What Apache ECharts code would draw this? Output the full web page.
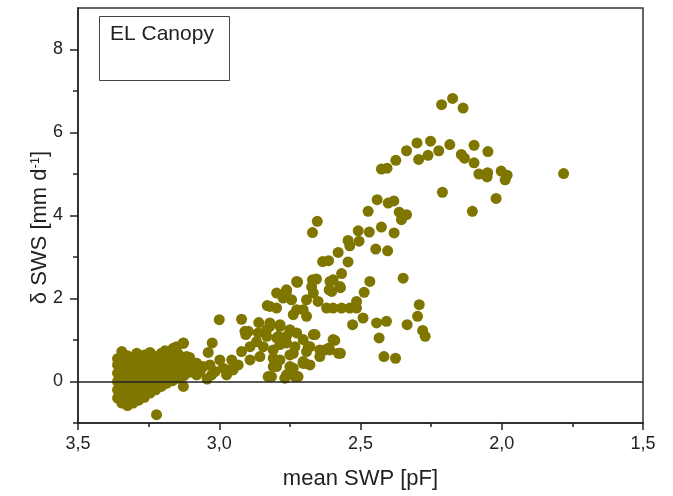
<!DOCTYPE html>
<html>
<head>
<meta charset="utf-8">
<script src="https://cdn.jsdelivr.net/npm/echarts@6/dist/echarts.min.js"></script>
<style>
html, body { margin: 0; padding: 0; background: #fff; }
#chart { width: 673px; height: 496px; }
</style>
</head>
<body>
<div id="chart"></div>
<script>
// tick labels
const xMajor = [3.5, 3.0, 2.5, 2.0, 1.5]
const xMinor = [3.25, 2.75, 2.25, 1.75]
const yMajor = [0, 2, 4, 6, 8]
const yMinor = [-1, 1, 3, 5, 7]

// [mean SWP, delta SWS]
const peakPoints = [
  [2.213, 6.67], [2.174, 6.82], [2.137, 6.59],
  [2.300, 5.75], [2.252, 5.79], [2.184, 5.71], [2.098, 5.69], [2.049, 5.54],
  [2.337, 5.56], [2.375, 5.33], [2.223, 5.56], [2.261, 5.45], [2.294, 5.35],
  [2.143, 5.47], [2.132, 5.38], [2.098, 5.27], [2.426, 5.12], [2.406, 5.14],
  [2.081, 5.00], [2.050, 5.03], [2.052, 4.93], [2.002, 5.07], [1.981, 4.97],
  [1.988, 4.86], [1.781, 5.01], [2.210, 4.56], [2.020, 4.41], [2.104, 4.10],
  [2.441, 4.38], [2.402, 4.30], [2.382, 4.35], [2.473, 4.10], [2.363, 4.08],
  [2.337, 4.02], [2.355, 3.90]
]
const risingPoints = [
  [2.653, 3.86], [2.670, 3.59], [2.508, 3.63], [2.469, 3.60], [2.426, 3.72],
  [2.381, 3.58], [2.544, 3.40], [2.505, 3.38], [2.538, 3.27], [2.446, 3.19],
  [2.404, 3.15], [2.579, 3.11], [2.634, 2.89], [2.613, 2.91], [2.544, 2.88],
  [2.567, 2.60], [2.597, 2.45], [2.670, 2.45], [2.656, 2.47], [2.723, 2.40],
  [2.467, 2.41], [2.349, 2.49], [2.608, 2.41], [2.726, 2.41]
]
const midPoints = [
  [2.571, 2.26], [2.611, 2.21], [2.487, 2.15], [2.673, 2.28], [2.667, 2.13],
  [2.691, 1.97], [2.650, 1.93], [2.762, 2.21], [2.768, 2.05], [2.744, 1.97],
  [2.797, 1.77], [2.703, 1.73], [2.738, 1.61], [2.691, 1.57], [2.620, 1.77],
  [2.597, 1.77], [2.567, 1.77], [2.538, 1.77], [2.514, 1.77], [2.514, 1.93],
  [2.491, 1.53], [2.573, 2.29], [2.602, 2.17], [2.797, 2.13], [2.762, 2.17],
  [2.774, 2.01], [2.830, 1.83], [2.724, 2.39], [2.821, 1.81], [2.726, 1.73],
  [2.292, 1.85], [2.298, 1.57]
]
const rightLowPoints = [
  [2.528, 1.37], [2.443, 1.41], [2.408, 1.45], [2.434, 1.05], [2.335, 1.37],
  [2.280, 1.23], [2.271, 1.09], [2.417, 0.60], [2.376, 0.56]
]
const bandPoints = [
  [3.000, 1.49], [2.921, 1.50], [2.860, 1.42], [2.667, 1.13], [2.685, 0.84],
  [2.644, 0.76], [2.614, 0.80], [2.591, 0.99], [2.571, 0.68], [2.703, 0.44],
  [2.750, 0.36], [2.679, 0.40], [3.127, 0.93], [3.025, 0.93], [3.039, 0.70],
  [2.897, 1.21], [2.906, 1.13], [2.862, 1.17], [2.821, 1.41], [2.785, 1.33],
  [2.750, 1.25], [2.726, 1.17], [3.115, 0.60], [3.080, 0.44], [3.057, 0.36],
  [3.027, 0.16], [3.033, 0.40], [2.998, 0.52], [2.986, 0.32], [2.951, 0.28],
  [2.956, 0.52], [2.921, 0.72], [2.891, 0.52], [2.856, 0.60], [2.827, 0.12],
  [2.797, 0.36], [2.762, 0.16], [2.738, 0.32], [2.721, 0.12], [2.697, 0.44],
  [2.691, 0.72], [2.703, 1.01], [2.891, 0.84], [2.844, 0.84], [2.785, 0.89],
  [2.750, 0.64], [2.809, 0.56], [2.868, 0.96], [2.832, 1.09], [2.797, 1.05],
  [2.762, 1.09], [2.732, 0.84], [2.933, 0.40], [2.968, 0.28], [3.015, 0.24],
  [3.068, 0.24], [3.043, 0.06], [3.080, 0.16], [3.151, 0.84], [2.974, 0.16],
  [2.661, 1.13], [2.679, 0.84], [2.644, 0.60], [2.626, 0.76], [2.597, 1.01],
  [2.608, 0.76], [2.578, 0.68], [2.821, 1.33], [2.785, 1.37], [2.791, 1.09],
  [2.762, 0.93], [2.738, 0.68], [2.809, 0.76], [2.785, 0.52], [2.703, 0.48],
  [2.809, 0.36], [2.815, 0.12], [2.768, 0.08], [2.732, 0.12], [2.832, 1.25],
  [2.909, 1.21]
]
const blobPoints = [
  [3.360, -0.40], [3.360, -0.20], [3.360, 0.00], [3.360, 0.20], [3.360, 0.40], [3.360, 0.55],
  [3.345, -0.52], [3.345, -0.30], [3.345, -0.10], [3.345, 0.10], [3.345, 0.30], [3.345, 0.50], [3.345, 0.72],
  [3.325, -0.58], [3.325, -0.35], [3.325, -0.14], [3.325, 0.06], [3.325, 0.26], [3.325, 0.46], [3.325, 0.62],
  [3.305, -0.52], [3.305, -0.28], [3.305, -0.06], [3.305, 0.16], [3.305, 0.36], [3.305, 0.55], [3.292, 0.68],
  [3.285, -0.45], [3.285, -0.22], [3.285, 0.00], [3.285, 0.22], [3.285, 0.42], [3.285, 0.60],
  [3.265, -0.38], [3.265, -0.16], [3.265, 0.06], [3.265, 0.28], [3.265, 0.48], [3.265, 0.64],
  [3.245, -0.28], [3.245, -0.08], [3.245, 0.12], [3.245, 0.32], [3.245, 0.52], [3.245, 0.70],
  [3.225, -0.20], [3.225, 0.00], [3.225, 0.20], [3.225, 0.40], [3.225, 0.60],
  [3.205, -0.12], [3.205, 0.08], [3.205, 0.28], [3.205, 0.48], [3.205, 0.68],
  [3.185, -0.04], [3.185, 0.16], [3.185, 0.36], [3.185, 0.56], [3.192, 0.74],
  [3.165, 0.02], [3.165, 0.22], [3.165, 0.42], [3.165, 0.62], [3.163, 0.80],
  [3.145, 0.08], [3.145, 0.28], [3.145, 0.48], [3.145, 0.66],
  [3.125, 0.14], [3.125, 0.34], [3.125, 0.52], [3.127, 0.92],
  [3.105, 0.22], [3.105, 0.40], [3.105, 0.58],
  [3.085, 0.30], [3.085, 0.44],
  [3.222, -0.80], [3.127, -0.12]
]

const allPoints = [].concat(blobPoints, bandPoints, rightLowPoints, midPoints, risingPoints, peakPoints)

const axisColor = '#222'
const fontFamily = 'Arial, "Liberation Sans", sans-serif'

const chart = echarts.init(document.getElementById('chart'))
const option = {
  animation: false,
  backgroundColor: '#fff',
  textStyle: { fontFamily: fontFamily },
  title: {
    text: 'EL Canopy',
    left: 99,
    top: 16,
    padding: [8, 16, 36, 11],
    borderColor: '#444',
    borderWidth: 1,
    textStyle: { fontSize: 21, fontWeight: 'normal', color: '#222', fontFamily: fontFamily }
  },
  grid: {
    left: 78,
    right: 30,
    top: 8,
    bottom: 73,
    show: true,
    borderColor: '#333',
    borderWidth: 1.5
  },
  xAxis: [
    {
      type: 'value',
      position: 'bottom',
      inverse: true,
      min: 1.5,
      max: 3.5,
      interval: 0.25,
      name: 'mean SWP [pF]',
      nameLocation: 'middle',
      nameGap: 45,
      nameTextStyle: { fontSize: 22, color: '#222' },
      axisLine: { show: true, onZero: false, lineStyle: { color: axisColor, width: 1.5 } },
      axisTick: { show: true, length: 7, customValues: xMajor, lineStyle: { color: axisColor, width: 1.5 } },
      axisLabel: {
        customValues: xMajor,
        margin: 12,
        fontSize: 18,
        color: '#222',
        formatter: function(v) {
          return v.toFixed(1).replace('.', ',')
        }
      },
      splitLine: { show: false }
    },
    {
      type: 'value',
      position: 'bottom',
      inverse: true,
      min: 1.5,
      max: 3.5,
      interval: 0.25,
      axisLine: { show: false, onZero: false },
      axisTick: { show: true, length: 4, customValues: xMinor, lineStyle: { color: axisColor, width: 1.5 } },
      axisLabel: { show: false },
      splitLine: { show: false }
    }
  ],
  yAxis: [
    {
      type: 'value',
      position: 'left',
      min: -1,
      max: 9,
      interval: 1,
      name: 'δ SWS [mm d{sup|-1}]',
      nameLocation: 'middle',
      nameGap: 27,
      nameMoveOverlap: false,
      nameTextStyle: {
        fontSize: 22,
        color: '#222',
        padding: [0, 24, 0, 0],
        rich: {
          sup: { fontSize: 13, verticalAlign: 'top', color: '#222' }
        }
      },
      axisLine: { show: true, onZero: false, lineStyle: { color: axisColor, width: 1.5 } },
      axisTick: { show: true, length: 8, customValues: yMajor, lineStyle: { color: axisColor, width: 1.5 } },
      axisLabel: { customValues: yMajor, margin: 15, fontSize: 18, color: '#222' },
      splitLine: { show: false }
    },
    {
      type: 'value',
      position: 'left',
      min: -1,
      max: 9,
      interval: 1,
      axisLine: { show: false, onZero: false },
      axisTick: { show: true, length: 5, customValues: yMinor, lineStyle: { color: axisColor, width: 1.5 } },
      axisLabel: { show: false },
      splitLine: { show: false }
    }
  ],
  series: [
    {
      name: 'EL Canopy',
      type: 'scatter',
      symbol: 'circle',
      symbolSize: 11,
      itemStyle: { color: '#7f7600', opacity: 1 },
      data: allPoints,
      markLine: {
        silent: true,
        symbol: 'none',
        label: { show: false },
        lineStyle: { color: '#222', width: 1.5, type: 'solid' },
        data: [{ yAxis: 0 }]
      }
    }
  ]
}
chart.setOption(option)
</script>
</body>
</html>
